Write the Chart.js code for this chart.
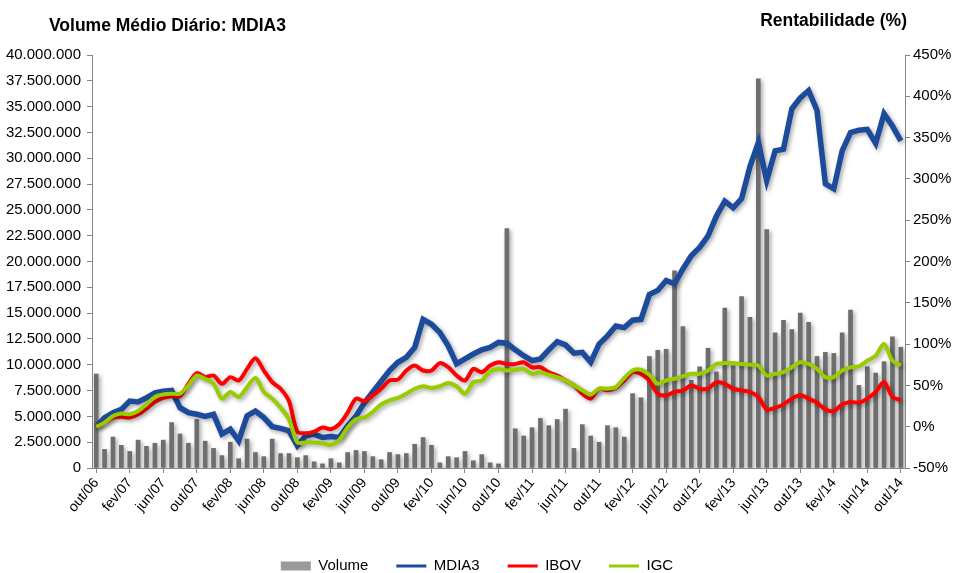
<!DOCTYPE html>
<html lang="pt-BR">
<head>
<meta charset="utf-8">
<title>Volume Médio Diário: MDIA3</title>
<script src="https://cdn.jsdelivr.net/npm/chart.js@4.4.1/dist/chart.umd.min.js"></script>
<style>
  html, body { margin: 0; padding: 0; background: #fff; overflow: hidden; }
  #wrap { position: relative; width: 954px; height: 573px; }
  #chart { display: block; }
  .heading {
    position: absolute;
    font: bold 17.5px "Liberation Sans", Arial, sans-serif;
    line-height: 20px;
    color: #000;
    white-space: nowrap;
  }
  #title-left { left: 49px; top: 15px; }
  #title-right { right: 47px; top: 10px; }
</style>
</head>
<body>
<div id="wrap">
  <canvas id="chart" width="954" height="573"></canvas>
  <div class="heading" id="title-left">Volume Médio Diário: MDIA3</div>
  <div class="heading" id="title-right">Rentabilidade (%)</div>
</div>
<script>
// meses (out/06 a out/14)
const months = [
  "out/06", "nov/06", "dez/06",
  "jan/07", "fev/07", "mar/07", "abr/07", "mai/07", "jun/07", "jul/07", "ago/07", "set/07", "out/07", "nov/07", "dez/07",
  "jan/08", "fev/08", "mar/08", "abr/08", "mai/08", "jun/08", "jul/08", "ago/08", "set/08", "out/08", "nov/08", "dez/08",
  "jan/09", "fev/09", "mar/09", "abr/09", "mai/09", "jun/09", "jul/09", "ago/09", "set/09", "out/09", "nov/09", "dez/09",
  "jan/10", "fev/10", "mar/10", "abr/10", "mai/10", "jun/10", "jul/10", "ago/10", "set/10", "out/10", "nov/10", "dez/10",
  "jan/11", "fev/11", "mar/11", "abr/11", "mai/11", "jun/11", "jul/11", "ago/11", "set/11", "out/11", "nov/11", "dez/11",
  "jan/12", "fev/12", "mar/12", "abr/12", "mai/12", "jun/12", "jul/12", "ago/12", "set/12", "out/12", "nov/12", "dez/12",
  "jan/13", "fev/13", "mar/13", "abr/13", "mai/13", "jun/13", "jul/13", "ago/13", "set/13", "out/13", "nov/13", "dez/13",
  "jan/14", "fev/14", "mar/14", "abr/14", "mai/14", "jun/14", "jul/14", "ago/14", "set/14", "out/14"
];

// volume medio diario, em milhoes
const volume = [
  9.1, 1.8, 3.0,
  2.2, 1.6, 2.7, 2.1, 2.4, 2.7, 4.4, 3.3, 2.4, 4.7, 2.6, 1.9,
  1.2, 2.5, 0.9, 2.8, 1.5, 1.1, 2.8, 1.4, 1.4, 1.0, 1.2, 0.6,
  0.4, 0.9, 0.5, 1.5, 1.7, 1.6, 1.1, 0.8, 1.5, 1.3, 1.4, 2.3,
  2.95, 2.2, 0.5, 1.1, 1.0, 1.6, 0.7, 1.3, 0.5, 0.4, 23.2, 3.8,
  3.1, 3.9, 4.8, 4.1, 4.7, 5.7, 1.9, 4.2, 3.1, 2.5, 4.1, 3.9,
  3.0, 7.2, 6.8, 10.8, 11.4, 11.5, 19.1, 13.7, 8.5, 9.8, 11.6, 9.3,
  15.5, 9.9, 16.6, 14.6, 37.7, 23.1, 13.1, 14.3, 13.4, 15.0, 14.1, 10.8,
  11.2, 11.1, 13.1, 15.3, 8.0, 9.8, 9.2, 10.3, 12.7, 11.7
];

// rentabilidade acumulada (%)
const mdia3 = [
  0, 11, 17,
  21, 31, 30, 35, 41, 43, 44, 23, 17, 15, 12.5, 15,
  -9, -3, -17, 13, 19, 11, 0, -2, -5, -23, -11, -9,
  -13, -12, -13, 1, 13, 29, 42, 55, 68, 78, 84, 96,
  130, 124, 114, 98, 76, 82, 88, 93, 96, 102, 101, 93,
  86, 80, 82, 93, 103, 99, 89, 90, 78, 100, 110, 122,
  120, 129, 130, 160, 165, 177, 173, 191, 207, 217, 231, 255,
  273, 265, 276, 315, 344, 298, 334, 336, 385, 398, 407, 383,
  294, 288, 334, 356, 359, 360, 343, 379, 364, 346
];

const ibov = [
  0, 5, 11,
  12, 11, 15, 22, 30, 35, 37, 37, 52, 65, 60, 62,
  52, 60, 56, 70, 83, 68, 54, 46, 31, -6, -8, -6,
  -1, -3, 3, 17, 34, 31, 38, 46, 56, 57, 68, 74,
  68, 68, 77, 72, 62, 56, 70, 66, 74, 78, 76, 76,
  78, 72, 72, 66, 62, 56, 50, 40, 34, 46, 44, 47,
  56, 66, 64, 56, 40, 38, 42, 44, 50, 46, 46, 54,
  52, 46, 44, 42, 36, 21, 23, 27, 34, 38, 34, 29,
  21, 19, 27, 30, 29, 34, 42, 54, 36, 32
];

const igc = [
  0, 5, 13,
  16, 15, 19, 27, 36, 39, 40, 40, 50, 62, 58, 52,
  34, 42, 36, 48, 59, 42, 34, 23, 9, -19, -19, -19,
  -20, -22, -16, -1, 9, 11, 18, 27, 32, 35, 40, 46,
  49, 47, 49, 53, 49, 40, 54, 56, 67, 70, 68, 69,
  70, 64, 66, 63, 60, 56, 50, 44, 39, 46, 46, 48,
  59, 68, 69, 63, 52, 56, 58, 61, 64, 64, 68, 76,
  77, 77, 76, 75, 74, 62, 64, 66, 72, 78, 76, 70,
  60, 60, 68, 72, 73, 80, 86, 100, 80, 74
];

// 2.500.000 style labels
function formatMil(v) {
  return Math.round(v * 1000000).toString().replace(/\B(?=(\d{3})+(?!\d))/g, ".");
}

Chart.defaults.font.family = '"Liberation Sans", Arial, sans-serif';
Chart.defaults.color = "#000";

// soft drop shadow under bars and lines, like the original
const shadow = {
  id: "shadow",
  beforeDatasetDraw(chart) {
    const c = chart.ctx;
    c.save();
    c.shadowColor = "rgba(0, 0, 0, 0.35)";
    c.shadowBlur = 4;
    c.shadowOffsetX = 2;
    c.shadowOffsetY = 2;
  },
  afterDatasetDraw(chart) {
    chart.ctx.restore();
  },
};

const axisColor = "#868686";

new Chart(document.getElementById("chart").getContext("2d"), {
  type: "bar",
  data: {
    labels: months,
    datasets: [
      {
        type: "bar",
        label: "Volume",
        data: volume,
        yAxisID: "y",
        backgroundColor: "#6e6e6e",
        barThickness: 4,
        pointStyle: "rect",
        order: 4,
      },
      {
        type: "line",
        label: "MDIA3",
        data: mdia3,
        yAxisID: "y1",
        borderColor: "#1d4b9b",
        borderWidth: 5.5,
        pointRadius: 0,
        tension: 0,
        pointStyle: "line",
        order: 3,
      },
      {
        type: "line",
        label: "IBOV",
        data: ibov,
        yAxisID: "y1",
        borderColor: "#ff0000",
        borderWidth: 4,
        pointRadius: 0,
        tension: 0.3,
        pointStyle: "line",
        order: 2,
      },
      {
        type: "line",
        label: "IGC",
        data: igc,
        yAxisID: "y1",
        borderColor: "#99cc00",
        borderWidth: 4,
        pointRadius: 0,
        tension: 0.3,
        pointStyle: "line",
        order: 1,
      },
    ],
  },
  options: {
    responsive: false,
    animation: false,
    events: [],
    layout: { padding: { top: 55, left: 0, right: 0, bottom: 0 } },
    plugins: {
      tooltip: { enabled: false },
      legend: {
        position: "bottom",
        maxHeight: 42.5,
        labels: {
          usePointStyle: true,
          pointStyleWidth: 30,
          boxHeight: 9,
          padding: 28,
          font: { size: 15 },
          color: "#000",
          sort: (a, b) => a.datasetIndex - b.datasetIndex,
          generateLabels(chart) {
            const items = Chart.defaults.plugins.legend.labels.generateLabels(chart);
            items.forEach((it) => {
              if (it.datasetIndex === 0) it.fillStyle = "#9a9a9a";
              else it.lineWidth = 3;
            });
            return items;
          },
        },
      },
    },
    scales: {
      x: {
        offset: true,
        grid: {
          offset: false,
          drawOnChartArea: false,
          tickLength: 5,
          color: (c) => (c.index % 4 === 0 ? axisColor : "rgba(0,0,0,0)"),
        },
        border: { color: axisColor },
        ticks: {
          autoSkip: false,
          minRotation: 50,
          maxRotation: 50,
          padding: 2,
          font: { size: 14 },
          callback: (v, i) => (i % 4 === 0 ? months[i] : ""),
        },
        afterFit: (s) => { s.height = 62.5; },
      },
      y: {
        position: "left",
        min: 0,
        max: 40,
        ticks: { stepSize: 2.5, padding: 6, font: { size: 15 }, callback: (v) => formatMil(v) },
        grid: { drawOnChartArea: false, tickLength: 5, color: axisColor },
        border: { color: axisColor },
        afterFit: (s) => { s.width = 92; },
      },
      y1: {
        position: "right",
        min: -50,
        max: 450,
        ticks: { stepSize: 50, padding: 3, font: { size: 15 }, callback: (v) => v + "%" },
        grid: { drawOnChartArea: false, tickLength: 5, color: axisColor },
        border: { color: axisColor },
        afterFit: (s) => { s.width = 49; },
      },
    },
  },
  plugins: [shadow],
});
</script>
</body>
</html>
